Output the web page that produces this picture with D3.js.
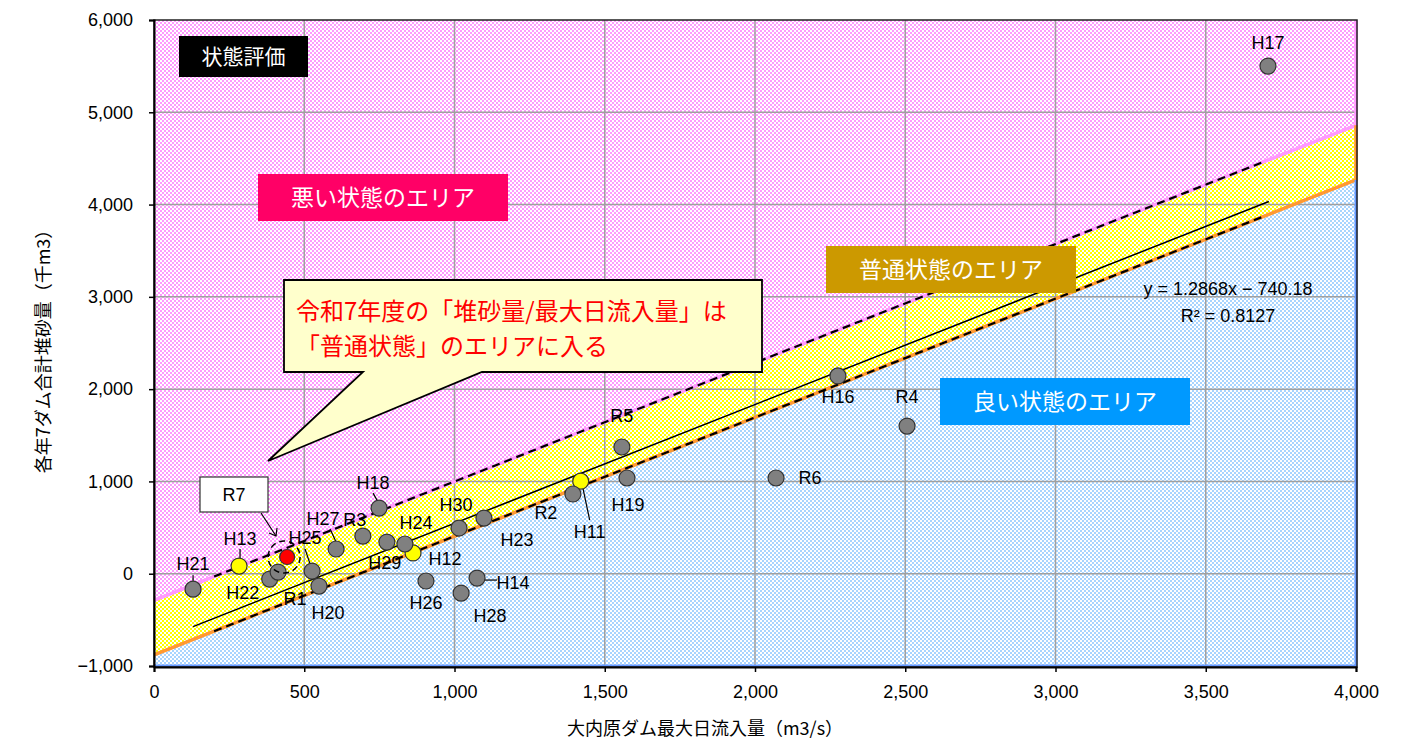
<!DOCTYPE html>
<html>
<head>
<meta charset="utf-8">
<script src="https://cdn.jsdelivr.net/npm/d3@7"></script>
<style>
  body { margin: 0; background: #fff; }
  svg { display: block; }
  text { font-family: Arial, "Liberation Sans", sans-serif; fill: #000; }
  .jp { font-family: "Noto Sans CJK JP", sans-serif; }
</style>
</head>
<body>
<div id="chart"></div>
<script>
// yearly points: name, max daily inflow (m3/s), total sediment (1000 m3)
const pointNames = ["H11","H12","H13","H14","H16","H17","H18","H19","H20","H21","H22","H23","H24",
  "H25","H26","H27","H28","H29","H30","R1","R2","R3","R4","R5","R6","R7"];
const inflow = [1420, 862, 283, 1075, 2276, 3707, 749, 1574, 549, 130, 385, 1098, 835,
  526, 905, 606, 1022, 775, 1015, 413, 1394, 695, 2506, 1557, 2070, 443];
const sediment = [1003, 225, 83, -47, 2143, 5501, 711, 1037, -134, -167, -58, 603, 322,
  29, -79, 268, -210, 343, 495, 18, 864, 408, 1600, 1373, 1037, 181];
const yellowYears = ["H11", "H12", "H13"];
const currentYear = "R7";

// band edges and lines as [inflow, sediment] end points
const upperEdge = [[0, -288], [4000, 4859]];
const lowerEdge = [[0, -880], [4000, 4267]];
const upperDash = [[200, -31], [3700, 4473]];
const lowerDash = [[200, -623], [3700, 3881]];
const trendLine = [[130, -573], [3710, 4034]];

const xTicks = [0, 500, 1000, 1500, 2000, 2500, 3000, 3500, 4000];
const yTicks = [-1000, 0, 1000, 2000, 3000, 4000, 5000, 6000];
const xDomain = [0, 4000];
const yDomain = [-1000, 6000];

// label placement relative to the point centre
const labelPos = {
  H17: [0, -24], H16: [0, 21], R4: [0, -30], R6: [34, 0], R5: [0, -31], H19: [1, 27],
  H11: [9, 50], R2: [-27, 19], H23: [33, 21], H30: [-3, -24], H24: [11, -21], H12: [32, 6],
  H29: [-2, 20], R3: [-8, -17], H27: [-13, -30], H18: [-6, -26], H25: [-7, -34], H13: [1, -28],
  H21: [0, -26], H22: [-27, 13], R1: [17, 26], H20: [9, 26], H26: [0, 22], H28: [29, 22],
  H14: [36, 4], R7: [0, 0]
};
const leaders = {
  H11: [2, 6, 9, 39], H27: [-6, -20, 0, -7], H18: [-6, -15, -1, -6], H25: [-7, -22, -2, -7],
  H13: [1, -17, 1, -6], H21: [0, -14, 0, -6], H14: [5, 2, 20, 2]
};

const width = 1408, height = 742;
const plot = { left: 154, right: 1356, top: 20, bottom: 666 };

const x = d3.scaleLinear().domain(xDomain).range([plot.left, plot.right]);
const y = d3.scaleLinear().domain(yDomain).range([plot.bottom, plot.top]);

const svg = d3.select("#chart").append("svg")
  .attr("width", width).attr("height", height);

const defs = svg.append("defs");
function checker(id, color) {
  const p = defs.append("pattern").attr("id", id)
    .attr("width", 4).attr("height", 4).attr("patternUnits", "userSpaceOnUse");
  p.append("rect").attr("width", 4).attr("height", 4).attr("fill", color);
  p.append("rect").attr("width", 2).attr("height", 2).attr("fill", "#fff");
  p.append("rect").attr("x", 2).attr("y", 2).attr("width", 2).attr("height", 2).attr("fill", "#fff");
}
checker("pinkFill", "#ff99ff");
checker("yellowFill", "#ffff00");
checker("blueFill", "#a8d4ff");

const pt = (d) => [x(d[0]), y(d[1])];
const poly = (pts) => "M" + pts.map((d) => pt(d).join(",")).join("L") + "Z";

// area bands
svg.append("path")
  .attr("d", poly([upperEdge[0], upperEdge[1], [xDomain[1], yDomain[1]], [xDomain[0], yDomain[1]]]))
  .attr("fill", "url(#pinkFill)");
svg.append("path")
  .attr("d", poly([upperEdge[0], upperEdge[1], lowerEdge[1], lowerEdge[0]]))
  .attr("fill", "url(#yellowFill)");
svg.append("path")
  .attr("d", poly([lowerEdge[0], lowerEdge[1], [xDomain[1], yDomain[0]], [xDomain[0], yDomain[0]]]))
  .attr("fill", "url(#blueFill)");

// gridlines
const grid = svg.append("g").attr("stroke", "#a0a0a0").attr("stroke-width", 1.5);
grid.selectAll("line.v").data(xTicks.slice(1, -1)).join("line")
  .attr("x1", (d) => x(d)).attr("x2", (d) => x(d))
  .attr("y1", plot.top).attr("y2", plot.bottom);
grid.selectAll("line.h").data(yTicks.slice(1, -1)).join("line")
  .attr("x1", plot.left).attr("x2", plot.right)
  .attr("y1", (d) => y(d)).attr("y2", (d) => y(d));

// band borders
const line = d3.line().x((d) => x(d[0])).y((d) => y(d[1]));
svg.append("path").attr("d", line([upperEdge[0], upperEdge[1], [xDomain[1], yDomain[1]]]))
  .attr("fill", "none").attr("stroke", "#ff99ff").attr("stroke-width", 3.5);
svg.append("path").attr("d", line([lowerEdge[0], lowerEdge[1], upperEdge[1]]))
  .attr("fill", "none").attr("stroke", "#ff9933").attr("stroke-width", 3.5);
svg.append("path").attr("d", line([lowerEdge[1], [xDomain[1], yDomain[0]], [xDomain[0], yDomain[0]]]))
  .attr("fill", "none").attr("stroke", "#6699ff").attr("stroke-width", 3);

// frame and axes
svg.append("rect")
  .attr("x", plot.left).attr("y", plot.top)
  .attr("width", plot.right - plot.left + 1).attr("height", plot.bottom - plot.top + 1)
  .attr("fill", "none").attr("stroke", "#222").attr("stroke-width", 1.5);

const yAxis = svg.append("g")
  .attr("transform", `translate(${plot.left},0)`)
  .call(d3.axisLeft(y).tickValues(yTicks).tickFormat(d3.format(",")).tickSize(5).tickPadding(16));
const xAxis = svg.append("g")
  .attr("transform", `translate(0,${plot.bottom + 1})`)
  .call(d3.axisBottom(x).tickValues(xTicks).tickFormat(d3.format(",")).tickSize(5).tickPadding(13));
[xAxis, yAxis].forEach((g) => {
  g.select(".domain").attr("stroke", "#000").attr("stroke-width", 2);
  g.selectAll(".tick line").attr("stroke", "#000").attr("stroke-width", 1.5);
  g.selectAll(".tick text").attr("font-size", 18).attr("font-family", "Arial, 'Liberation Sans', sans-serif");
});

// dashed band lines and trend line
[upperDash, lowerDash].forEach((seg) => {
  svg.append("path").attr("d", line(seg)).attr("fill", "none")
    .attr("stroke", "#000").attr("stroke-width", 2.2).attr("stroke-dasharray", "8,5");
});
svg.append("path").attr("d", line(trendLine)).attr("fill", "none")
  .attr("stroke", "#000").attr("stroke-width", 1.5);

svg.append("text").attr("x", 1228).attr("y", 295).attr("text-anchor", "middle")
  .attr("font-size", 18).text("y = 1.2868x \u2212 740.18");
svg.append("text").attr("x", 1228).attr("y", 322).attr("text-anchor", "middle")
  .attr("font-size", 18).text("R\u00b2 = 0.8127");

// points
const points = pointNames.map((name, i) => ({ name, x: inflow[i], y: sediment[i] }));

const leaderG = svg.append("g").attr("stroke", "#000").attr("stroke-width", 1.2);
points.filter((d) => leaders[d.name]).forEach((d) => {
  const l = leaders[d.name];
  leaderG.append("line")
    .attr("x1", x(d.x) + l[0]).attr("y1", y(d.y) + l[1])
    .attr("x2", x(d.x) + l[2]).attr("y2", y(d.y) + l[3]);
});

svg.append("g").selectAll("circle").data(points).join("circle")
  .attr("cx", (d) => x(d.x)).attr("cy", (d) => y(d.y))
  .attr("r", (d) => d.name === currentYear ? 7.5 : 8)
  .attr("fill", (d) => d.name === currentYear ? "#ff0000" : yellowYears.includes(d.name) ? "#ffff00" : "#808080")
  .attr("stroke", "#333").attr("stroke-width", 1.2);

svg.append("g").selectAll("text").data(points.filter((d) => d.name !== currentYear)).join("text")
  .attr("x", (d) => x(d.x) + labelPos[d.name][0])
  .attr("y", (d) => y(d.y) + labelPos[d.name][1])
  .attr("dy", "0.36em").attr("text-anchor", "middle").attr("font-size", 18)
  .text((d) => d.name);

// current year callout (R7)
const cur = points.find((d) => d.name === currentYear);
svg.append("circle").attr("cx", x(cur.x) - 3).attr("cy", y(cur.y)).attr("r", 16)
  .attr("fill", "none").attr("stroke", "#000").attr("stroke-width", 1.5).attr("stroke-dasharray", "6,4");
svg.append("rect").attr("x", 200).attr("y", 477).attr("width", 68).attr("height", 35)
  .attr("fill", "#fff").attr("stroke", "#333").attr("stroke-width", 1.2);
svg.append("text").attr("x", 234).attr("y", 495).attr("dy", "0.36em")
  .attr("text-anchor", "middle").attr("font-size", 18).text(currentYear);
const ax1 = 261, ay1 = 513, ax2 = 276, ay2 = 536;
svg.append("line").attr("x1", ax1).attr("y1", ay1).attr("x2", ax2).attr("y2", ay2)
  .attr("stroke", "#000").attr("stroke-width", 1.2);
svg.append("path").attr("d", `M${ax2 - 7},${ay2 - 3}L${ax2},${ay2}L${ax2 + 1},${ay2 - 8}`)
  .attr("fill", "none").attr("stroke", "#000").attr("stroke-width", 1.2);

// area title boxes
function labelBox(x0, y0, w, h, fill, text, size) {
  svg.append("rect").attr("x", x0).attr("y", y0).attr("width", w).attr("height", h).attr("fill", fill);
  svg.append("text").attr("class", "jp").attr("x", x0 + w / 2).attr("y", y0 + h / 2)
    .attr("dy", "0.36em").attr("text-anchor", "middle").attr("font-size", size)
    .style("fill", "#fff").text(text);
}
labelBox(179, 36, 129, 41, "#000000", "状態評価", 21);
labelBox(258, 174, 250, 47, "#ff0066", "悪い状態のエリア", 23);
labelBox(826, 246, 250, 47, "#cc9900", "普通状態のエリア", 23);
labelBox(940, 378, 250, 47, "#0099ff", "良い状態のエリア", 23);

// speech bubble
svg.append("path")
  .attr("d", "M284,280L762,280L762,372L482,372L268,461L363,372L284,372Z")
  .attr("fill", "#ffffcc").attr("stroke", "#000").attr("stroke-width", 1.8).attr("stroke-linejoin", "miter");
svg.append("text").attr("class", "jp").attr("x", 296).attr("y", 320)
  .attr("font-size", 24).style("fill", "#ff0000").text("令和7年度の「堆砂量/最大日流入量」は");
svg.append("text").attr("class", "jp").attr("x", 296).attr("y", 355)
  .attr("font-size", 24).style("fill", "#ff0000").text("「普通状態」のエリアに入る");

// axis titles
svg.append("text").attr("class", "jp").attr("x", 705).attr("y", 735)
  .attr("text-anchor", "middle").attr("font-size", 18).text("大内原ダム最大日流入量（m3/s）");
svg.append("text").attr("class", "jp")
  .attr("transform", "translate(50,347) rotate(-90)")
  .attr("text-anchor", "middle").attr("font-size", 18).text("各年7ダム合計堆砂量（千m3）");
</script>
</body>
</html>
